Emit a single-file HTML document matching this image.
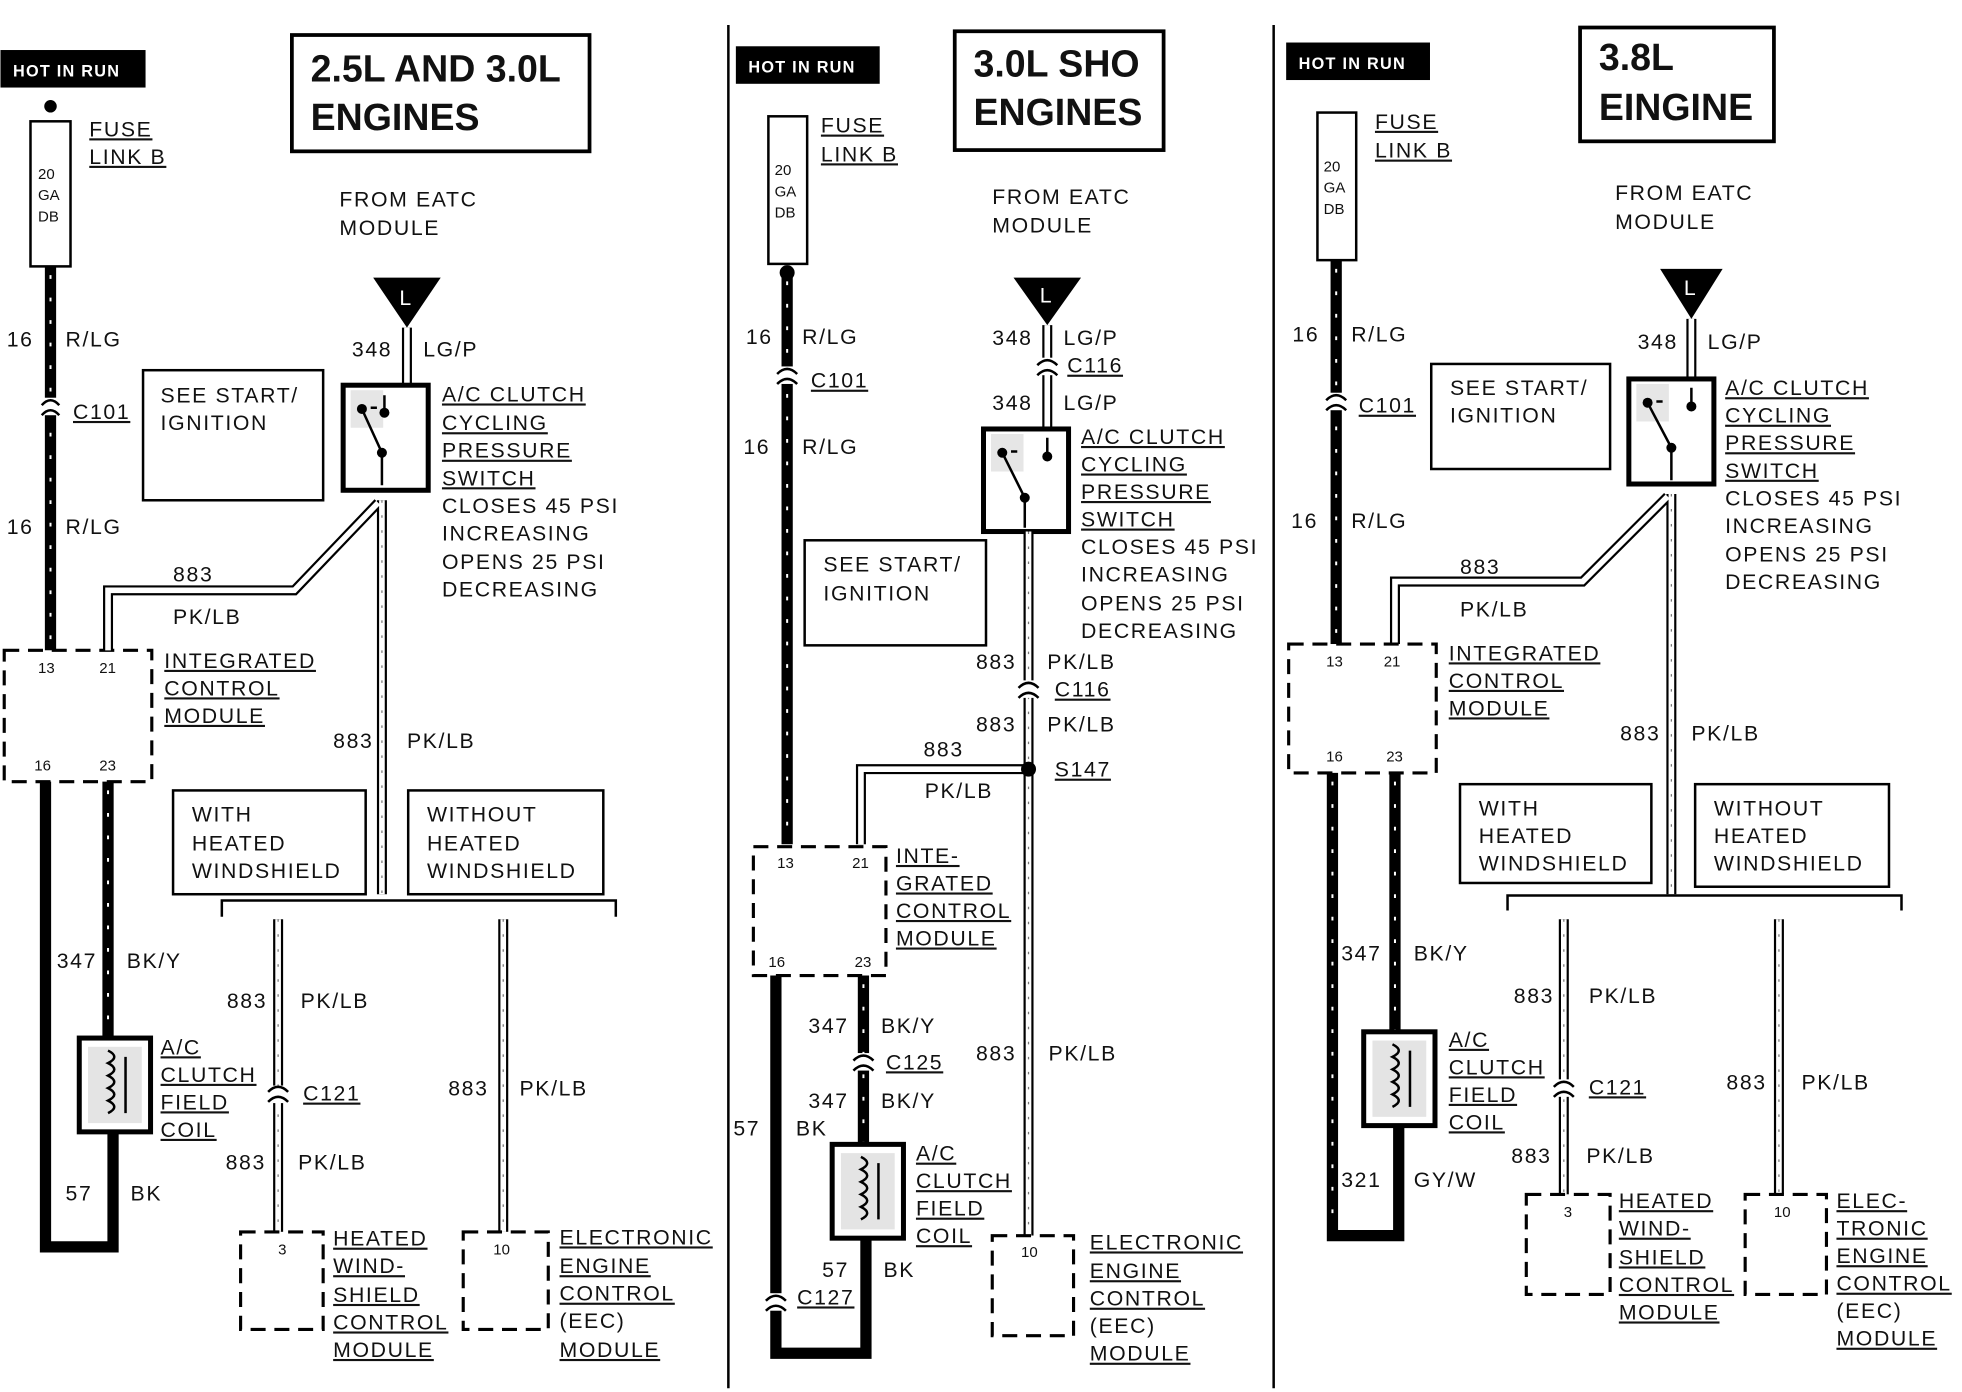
<!DOCTYPE html>
<html><head><meta charset="utf-8"><style>
html,body{margin:0;padding:0;background:#fff}
svg{display:block}
text{font-family:"Liberation Sans",sans-serif;font-size:17px;font-weight:normal;fill:#111;letter-spacing:1.3px}
.u{text-decoration:underline}
.s{font-size:12px;font-weight:normal;letter-spacing:0}
.t{font-size:30px;letter-spacing:0;font-weight:bold}
.hr{fill:#fff;font-size:13px;letter-spacing:1px;font-weight:bold}
.tk{stroke:#000;stroke-width:9;fill:none}
.tki{stroke:#fff;stroke-width:1.6;stroke-dasharray:3 15;fill:none}
.ho{stroke:#000;stroke-width:8;fill:none}
.hoi{stroke:#fff;stroke-width:4.5;fill:none}
.hoj{stroke:#777;stroke-width:1;stroke-dasharray:2 10;fill:none}
.bx{fill:#fff;stroke:#000;stroke-width:2}
.tb{fill:#fff;stroke:#000;stroke-width:3}
.db{fill:#fff;stroke:#000;stroke-width:2.5;stroke-dasharray:12 7}
.ln{stroke:#000;stroke-width:2;fill:none}
</style></head><body>
<svg width="1962" height="1392" viewBox="0 0 1568 1113" xmlns="http://www.w3.org/2000/svg">
<rect width="1568" height="1113" fill="#fff"/>
<line x1="582" y1="20" x2="582" y2="1110" class="ln" stroke-width="3"/>
<line x1="1018" y1="20" x2="1018" y2="1110" class="ln" stroke-width="3"/>

<!-- ================= PANEL 1 ================= -->
<rect x="0" y="40" width="116" height="30" fill="#000"/><text x="10" y="61" class="hr">HOT IN RUN</text>
<rect x="233" y="28" width="238" height="93" class="tb"/>
<text x="248" y="65" class="t">2.5L AND 3.0L</text><text x="248" y="104" class="t">ENGINES</text>
<circle cx="40" cy="85" r="5" fill="#000"/>
<rect x="24" y="97" width="32" height="116" class="bx"/>
<text x="30" y="143" class="s">20</text><text x="30" y="160" class="s">GA</text><text x="30" y="177" class="s">DB</text>
<text x="71" y="109" class="u">FUSE</text><text x="71" y="131" class="u">LINK B</text>
<path d="M40 213V520" class="tk"/><path d="M40 220V520" class="tki"/>
<rect x="30" y="318" width="20" height="14" fill="#fff"/>
<path d="M33 324Q40 316 47 324M33 332Q40 324 47 332" class="ln"/>
<text x="5" y="277">16</text><text x="52" y="277">R/LG</text>
<text x="58" y="335" class="u">C101</text>
<text x="5" y="427">16</text><text x="52" y="427">R/LG</text>
<rect x="3" y="520" width="118" height="105" class="db"/>
<text x="30" y="538" class="s">13</text><text x="79" y="538" class="s">21</text>
<text x="27" y="616" class="s">16</text><text x="79" y="616" class="s">23</text>
<text x="131" y="534" class="u">INTEGRATED</text><text x="131" y="556" class="u">CONTROL</text><text x="131" y="578" class="u">MODULE</text>
<rect x="114" y="296" width="144" height="104" class="bx"/>
<text x="128" y="322">SEE START/</text><text x="128" y="344">IGNITION</text>
<text x="271" y="165">FROM EATC</text><text x="271" y="188">MODULE</text>
<polygon points="298,222 352,222 325,262" fill="#000"/><text x="319" y="244" style="fill:#fff">L</text>
<path d="M325 262V308" class="ho"/><path d="M325 262V308" class="hoi"/>
<text x="281" y="285">348</text><text x="338" y="285">LG/P</text>
<rect x="274" y="308" width="68" height="84" fill="#fff" stroke="#000" stroke-width="4"/>
<rect x="280" y="312" width="26" height="30" fill="#e6e6e6"/>
<path d="M289 327L305 362M296 326H301M307 316V330M305 362V388" class="ln" stroke-width="2.5"/>
<circle cx="289" cy="327" r="4" fill="#000"/><circle cx="307" cy="330" r="4" fill="#000"/><circle cx="305" cy="362" r="4" fill="#000"/>
<text x="353" y="321" class="u">A/C CLUTCH</text><text x="353" y="344" class="u">CYCLING</text><text x="353" y="366" class="u">PRESSURE</text><text x="353" y="388" class="u">SWITCH</text>
<text x="353" y="410">CLOSES 45  PSI</text><text x="353" y="432">INCREASING</text><text x="353" y="455">OPENS 25  PSI</text><text x="353" y="477">DECREASING</text>
<path d="M305 400V715M302 402L235 472H86V520" class="ho"/><path d="M305 400V715M302 402L235 472H86V520" class="hoi"/><path d="M305 400V715" class="hoj"/>
<text x="138" y="465">883</text><text x="138" y="499">PK/LB</text>
<text x="266" y="598">883</text><text x="325" y="598">PK/LB</text>
<rect x="138" y="632" width="154" height="83" class="bx"/><text x="153" y="657">WITH</text><text x="153" y="680">HEATED</text><text x="153" y="702">WINDSHIELD</text>
<rect x="326" y="632" width="156" height="83" class="bx"/><text x="341" y="657">WITHOUT</text><text x="341" y="680">HEATED</text><text x="341" y="702">WINDSHIELD</text>
<path d="M177 733V720H492V733" class="ln"/>
<path d="M86 625V830" class="tk"/><path d="M86 632V830" class="tki"/>
<text x="45" y="774">347</text><text x="101" y="774">BK/Y</text>
<rect x="63" y="830" width="57" height="75" fill="#fff" stroke="#000" stroke-width="4"/>
<rect x="70" y="837" width="43" height="61" fill="#e4e4e4"/>
<path d="M86 840q10 5 0 10q10 5 0 10q10 5 0 10q10 5 0 10q10 5 0 10M100 845V890" class="ln"/>
<text x="128" y="843" class="u">A/C</text><text x="128" y="865" class="u">CLUTCH</text><text x="128" y="887" class="u">FIELD</text><text x="128" y="909" class="u">COIL</text>
<path d="M36 625V997H90V905" class="tk"/>
<text x="52" y="960">57</text><text x="104" y="960">BK</text>
<path d="M222 735V985" class="ho"/><path d="M222 735V985" class="hoi"/><path d="M222 735V985" class="hoj"/>
<rect x="212" y="868" width="20" height="14" fill="#fff"/><path d="M214 873Q222 865 230 873M214 881Q222 873 230 881" class="ln"/>
<text x="181" y="806">883</text><text x="240" y="806">PK/LB</text><text x="242" y="880" class="u">C121</text>
<text x="180" y="935">883</text><text x="238" y="935">PK/LB</text>
<rect x="192" y="985" width="66" height="78" class="db"/><text x="222" y="1003" class="s">3</text>
<text x="266" y="996" class="u">HEATED</text><text x="266" y="1018" class="u">WIND-</text><text x="266" y="1041" class="u">SHIELD</text><text x="266" y="1063" class="u">CONTROL</text><text x="266" y="1085" class="u">MODULE</text>
<path d="M402 735V985" class="ho"/><path d="M402 735V985" class="hoi"/><path d="M402 735V985" class="hoj"/>
<text x="358" y="876">883</text><text x="415" y="876">PK/LB</text>
<rect x="370" y="985" width="68" height="78" class="db"/><text x="394" y="1003" class="s">10</text>
<text x="447" y="995" class="u">ELECTRONIC</text><text x="447" y="1018" class="u">ENGINE</text><text x="447" y="1040" class="u">CONTROL</text><text x="447" y="1062">(EEC)</text><text x="447" y="1085" class="u">MODULE</text>

<!-- ================= PANEL 2 ================= -->
<rect x="588" y="37" width="115" height="30" fill="#000"/><text x="598" y="58" class="hr">HOT IN RUN</text>
<rect x="763" y="25" width="167" height="95" class="tb"/>
<text x="778" y="61" class="t">3.0L SHO</text><text x="778" y="100" class="t">ENGINES</text>
<rect x="614" y="93" width="31" height="118" class="bx"/>
<circle cx="629" cy="218" r="6" fill="#000"/>
<text x="619" y="140" class="s">20</text><text x="619" y="157" class="s">GA</text><text x="619" y="174" class="s">DB</text>
<text x="656" y="106" class="u">FUSE</text><text x="656" y="129" class="u">LINK B</text>
<path d="M629 218V675" class="tk"/><path d="M629 225V675" class="tki"/>
<rect x="619" y="293" width="20" height="14" fill="#fff"/><path d="M621 299Q629 291 637 299M621 307Q629 299 637 307" class="ln"/>
<text x="596" y="275">16</text><text x="641" y="275">R/LG</text><text x="648" y="310" class="u">C101</text>
<text x="594" y="363">16</text><text x="641" y="363">R/LG</text>
<text x="793" y="163">FROM EATC</text><text x="793" y="186">MODULE</text>
<polygon points="810,222 864,222 837,260" fill="#000"/><text x="831" y="242" style="fill:#fff">L</text>
<path d="M837 260V343" class="ho"/><path d="M837 260V343" class="hoi"/>
<rect x="827" y="286" width="20" height="14" fill="#fff"/><path d="M829 292Q837 284 845 292M829 300Q837 292 845 300" class="ln"/>
<text x="793" y="276">348</text><text x="850" y="276">LG/P</text><text x="853" y="298" class="u">C116</text>
<text x="793" y="328">348</text><text x="850" y="328">LG/P</text>
<rect x="786" y="343" width="68" height="82" fill="#fff" stroke="#000" stroke-width="4"/>
<rect x="792" y="347" width="26" height="30" fill="#e6e6e6"/>
<path d="M801 362L819 398M808 361H813M837 350V365M819 398V422" class="ln" stroke-width="2.5"/>
<circle cx="801" cy="362" r="4" fill="#000"/><circle cx="837" cy="365" r="4" fill="#000"/><circle cx="819" cy="398" r="4" fill="#000"/>
<text x="864" y="355" class="u">A/C CLUTCH</text><text x="864" y="377" class="u">CYCLING</text><text x="864" y="399" class="u">PRESSURE</text><text x="864" y="421" class="u">SWITCH</text>
<text x="864" y="443">CLOSES 45  PSI</text><text x="864" y="465">INCREASING</text><text x="864" y="488">OPENS 25  PSI</text><text x="864" y="510">DECREASING</text>
<rect x="643" y="432" width="145" height="84" class="bx"/><text x="658" y="457">SEE START/</text><text x="658" y="480">IGNITION</text>
<path d="M822 425V988M822 615H688V675" class="ho"/><path d="M822 425V988M822 615H688V675" class="hoi"/><path d="M822 425V988" class="hoj"/>
<rect x="812" y="544" width="20" height="14" fill="#fff"/><path d="M814 550Q822 542 830 550M814 558Q822 550 830 558" class="ln"/>
<circle cx="822" cy="615" r="6" fill="#000"/>
<text x="780" y="535">883</text><text x="837" y="535">PK/LB</text><text x="843" y="557" class="u">C116</text>
<text x="780" y="585">883</text><text x="837" y="585">PK/LB</text><text x="843" y="621" class="u">S147</text>
<text x="738" y="605">883</text><text x="739" y="638">PK/LB</text>
<rect x="602" y="677" width="106" height="103" class="db"/>
<text x="621" y="694" class="s">13</text><text x="681" y="694" class="s">21</text><text x="614" y="773" class="s">16</text><text x="683" y="773" class="s">23</text>
<text x="716" y="690" class="u">INTE-</text><text x="716" y="712" class="u">GRATED</text><text x="716" y="734" class="u">CONTROL</text><text x="716" y="756" class="u">MODULE</text>
<path d="M690 780V915" class="tk"/><path d="M690 787V915" class="tki"/>
<rect x="680" y="842" width="20" height="14" fill="#fff"/><path d="M682 848Q690 840 698 848M682 856Q690 848 698 856" class="ln"/>
<text x="646" y="826">347</text><text x="704" y="826">BK/Y</text><text x="708" y="855" class="u">C125</text>
<text x="646" y="886">347</text><text x="704" y="886">BK/Y</text>
<rect x="665" y="915" width="57" height="75" fill="#fff" stroke="#000" stroke-width="4"/>
<rect x="672" y="922" width="43" height="61" fill="#e4e4e4"/>
<path d="M688 925q10 5 0 10q10 5 0 10q10 5 0 10q10 5 0 10q10 5 0 10M702 930V975" class="ln"/>
<text x="732" y="928" class="u">A/C</text><text x="732" y="950" class="u">CLUTCH</text><text x="732" y="972" class="u">FIELD</text><text x="732" y="994" class="u">COIL</text>
<path d="M620 780V1082H692V990" class="tk"/>
<rect x="610" y="1034" width="20" height="14" fill="#fff"/><path d="M612 1040Q620 1032 628 1040M612 1048Q620 1040 628 1048" class="ln"/>
<text x="586" y="908">57</text><text x="636" y="908">BK</text>
<text x="657" y="1021">57</text><text x="706" y="1021">BK</text><text x="637" y="1043" class="u">C127</text>
<text x="780" y="848">883</text><text x="838" y="848">PK/LB</text>
<rect x="793" y="988" width="65" height="80" class="db"/><text x="816" y="1005" class="s">10</text>
<text x="871" y="999" class="u">ELECTRONIC</text><text x="871" y="1022" class="u">ENGINE</text><text x="871" y="1044" class="u">CONTROL</text><text x="871" y="1066">(EEC)</text><text x="871" y="1088" class="u">MODULE</text>

<!-- ================= PANEL 3 ================= -->
<rect x="1028" y="34" width="115" height="30" fill="#000"/><text x="1038" y="55" class="hr">HOT IN RUN</text>
<rect x="1263" y="22" width="155" height="91" class="tb"/>
<text x="1278" y="56" class="t">3.8L</text><text x="1278" y="96" class="t">EINGINE</text>
<rect x="1053" y="90" width="31" height="118" class="bx"/>
<text x="1058" y="137" class="s">20</text><text x="1058" y="154" class="s">GA</text><text x="1058" y="171" class="s">DB</text>
<text x="1099" y="103" class="u">FUSE</text><text x="1099" y="126" class="u">LINK B</text>
<path d="M1068 208V515" class="tk"/><path d="M1068 215V515" class="tki"/>
<rect x="1058" y="314" width="20" height="14" fill="#fff"/><path d="M1060 320Q1068 312 1076 320M1060 328Q1068 320 1076 328" class="ln"/>
<text x="1033" y="273">16</text><text x="1080" y="273">R/LG</text><text x="1086" y="330" class="u">C101</text>
<text x="1032" y="422">16</text><text x="1080" y="422">R/LG</text>
<rect x="1144" y="291" width="143" height="84" class="bx"/><text x="1159" y="316">SEE START/</text><text x="1159" y="338">IGNITION</text>
<text x="1291" y="160">FROM EATC</text><text x="1291" y="183">MODULE</text>
<polygon points="1327,215 1377,215 1352,255" fill="#000"/><text x="1346" y="236" style="fill:#fff">L</text>
<path d="M1352 255V303" class="ho"/><path d="M1352 255V303" class="hoi"/>
<text x="1309" y="279">348</text><text x="1365" y="279">LG/P</text>
<rect x="1302" y="303" width="68" height="84" fill="#fff" stroke="#000" stroke-width="4"/>
<rect x="1308" y="307" width="26" height="30" fill="#e6e6e6"/>
<path d="M1317 322L1336 358M1324 321H1329M1352 310V325M1336 358V384" class="ln" stroke-width="2.5"/>
<circle cx="1317" cy="322" r="4" fill="#000"/><circle cx="1352" cy="325" r="4" fill="#000"/><circle cx="1336" cy="358" r="4" fill="#000"/>
<text x="1379" y="316" class="u">A/C CLUTCH</text><text x="1379" y="338" class="u">CYCLING</text><text x="1379" y="360" class="u">PRESSURE</text><text x="1379" y="382" class="u">SWITCH</text>
<text x="1379" y="404">CLOSES 45  PSI</text><text x="1379" y="426">INCREASING</text><text x="1379" y="449">OPENS 25  PSI</text><text x="1379" y="471">DECREASING</text>
<path d="M1336 395V715M1333 397L1265 465H1115V515" class="ho"/><path d="M1336 395V715M1333 397L1265 465H1115V515" class="hoi"/><path d="M1336 395V715" class="hoj"/>
<text x="1167" y="459">883</text><text x="1167" y="493">PK/LB</text>
<text x="1295" y="592">883</text><text x="1352" y="592">PK/LB</text>
<rect x="1030" y="515" width="118" height="103" class="db"/>
<text x="1060" y="533" class="s">13</text><text x="1106" y="533" class="s">21</text><text x="1060" y="609" class="s">16</text><text x="1108" y="609" class="s">23</text>
<text x="1158" y="528" class="u">INTEGRATED</text><text x="1158" y="550" class="u">CONTROL</text><text x="1158" y="572" class="u">MODULE</text>
<rect x="1167" y="627" width="153" height="79" class="bx"/><text x="1182" y="652">WITH</text><text x="1182" y="674">HEATED</text><text x="1182" y="696">WINDSHIELD</text>
<rect x="1355" y="627" width="155" height="82" class="bx"/><text x="1370" y="652">WITHOUT</text><text x="1370" y="674">HEATED</text><text x="1370" y="696">WINDSHIELD</text>
<path d="M1205 728V716H1520V728" class="ln"/>
<path d="M1115 618V825" class="tk"/><path d="M1115 625V825" class="tki"/>
<text x="1072" y="768">347</text><text x="1130" y="768">BK/Y</text>
<rect x="1090" y="825" width="57" height="75" fill="#fff" stroke="#000" stroke-width="4"/>
<rect x="1097" y="832" width="43" height="61" fill="#e4e4e4"/>
<path d="M1113 835q10 5 0 10q10 5 0 10q10 5 0 10q10 5 0 10q10 5 0 10M1127 840V885" class="ln"/>
<text x="1158" y="837" class="u">A/C</text><text x="1158" y="859" class="u">CLUTCH</text><text x="1158" y="881" class="u">FIELD</text><text x="1158" y="903" class="u">COIL</text>
<path d="M1065 618V988H1118V900" class="tk"/><path d="M1065 625V980" class="tki"/>
<text x="1072" y="949">321</text><text x="1130" y="949">GY/W</text>
<path d="M1250 735V955" class="ho"/><path d="M1250 735V955" class="hoi"/><path d="M1250 735V955" class="hoj"/>
<rect x="1240" y="863" width="20" height="14" fill="#fff"/><path d="M1242 869Q1250 861 1258 869M1242 877Q1250 869 1258 877" class="ln"/>
<text x="1210" y="802">883</text><text x="1270" y="802">PK/LB</text><text x="1270" y="875" class="u">C121</text>
<text x="1208" y="930">883</text><text x="1268" y="930">PK/LB</text>
<rect x="1220" y="955" width="67" height="80" class="db"/><text x="1250" y="973" class="s">3</text>
<text x="1294" y="966" class="u">HEATED</text><text x="1294" y="988" class="u">WIND-</text><text x="1294" y="1011" class="u">SHIELD</text><text x="1294" y="1033" class="u">CONTROL</text><text x="1294" y="1055" class="u">MODULE</text>
<path d="M1422 735V955" class="ho"/><path d="M1422 735V955" class="hoi"/><path d="M1422 735V955" class="hoj"/>
<text x="1380" y="871">883</text><text x="1440" y="871">PK/LB</text>
<rect x="1395" y="955" width="65" height="80" class="db"/><text x="1418" y="973" class="s">10</text>
<text x="1468" y="966" class="u">ELEC-</text><text x="1468" y="988" class="u">TRONIC</text><text x="1468" y="1010" class="u">ENGINE</text><text x="1468" y="1032" class="u">CONTROL</text><text x="1468" y="1054">(EEC)</text><text x="1468" y="1076" class="u">MODULE</text>
</svg>
</body></html>
